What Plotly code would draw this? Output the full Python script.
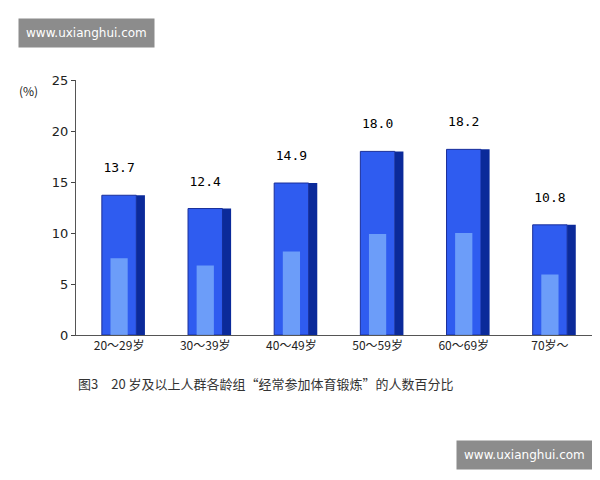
import plotly.graph_objects as go

# 各龄组经常参加体育锻炼的人数百分比
age_groups = ["20～29岁", "30～39岁", "40～49岁", "50～59岁", "60～69岁", "70岁～"]
percent = [13.7, 12.4, 14.9, 18.0, 18.2, 10.8]
y_ticks = [0, 5, 10, 15, 20, 25]

cjk = "Noto Sans CJK SC"

fig = go.Figure()

# 柱体正面
fig.add_trace(
    go.Bar(
        x=age_groups,
        y=percent,
        width=0.4,
        marker=dict(color="#2f5cf0", line=dict(color="#1a2f9a", width=1)),
        text=[f"{v:.1f}<br> " for v in percent],
        textposition="outside",
        textfont=dict(family="DejaVu Sans Mono", size=13, color="#000"),
        cliponaxis=False,
        hoverinfo="skip",
    )
)
# 柱体侧面（深色）
fig.add_trace(
    go.Bar(
        x=age_groups,
        y=percent,
        width=0.1,
        offset=0.2,
        marker=dict(color="#0b2a9a", line=dict(width=0)),
        hoverinfo="skip",
    )
)
# 柱体中部浅色高光
fig.add_trace(
    go.Bar(
        x=age_groups,
        y=[v * 0.55 for v in percent],
        width=0.2,
        marker=dict(color="rgba(150,200,255,0.6)", line=dict(width=0)),
        hoverinfo="skip",
    )
)

fig.update_layout(
    width=600,
    height=480,
    margin=dict(l=68, r=15, t=72, b=153),
    paper_bgcolor="white",
    plot_bgcolor="white",
    barmode="overlay",
    showlegend=False,
    font=dict(family=cjk, size=12, color="#222"),
    xaxis=dict(
        showline=True, linecolor="#555", ticks="", tickfont=dict(size=12, family=cjk)
    ),
    yaxis=dict(
        range=[0, 25],
        tickvals=y_ticks,
        showline=True,
        linecolor="#555",
        ticks="outside",
        ticklen=4,
        showgrid=False,
        zeroline=False,
        tickfont=dict(size=13, family="DejaVu Sans"),
    ),
    annotations=[
        dict(text="(%)", x=-0.115, y=1.0, xref="paper", yref="paper",
             xanchor="left", showarrow=False),
        dict(
            text="图3　20 岁及以上人群各龄组“经常参加体育锻炼”的人数百分比",
            xref="paper", yref="paper", x=0.0, y=-0.235, xanchor="left",
            showarrow=False, font=dict(size=13, family=cjk, color="#333"),
        ),
        dict(
            text="www.uxianghui.com", xref="paper", yref="paper",
            x=-0.113, y=1.245, xanchor="left", yanchor="top", showarrow=False,
            bgcolor="#8c8c8c", borderpad=7, font=dict(color="white", size=12, family="DejaVu Sans"),
        ),
        dict(
            text="www.uxianghui.com", xref="paper", yref="paper",
            x=1.0, y=-0.41, xanchor="right", yanchor="top", showarrow=False,
            bgcolor="#8c8c8c", borderpad=7, font=dict(color="white", size=12, family="DejaVu Sans"),
        ),
    ],
)

fig.write_html("out.html")
